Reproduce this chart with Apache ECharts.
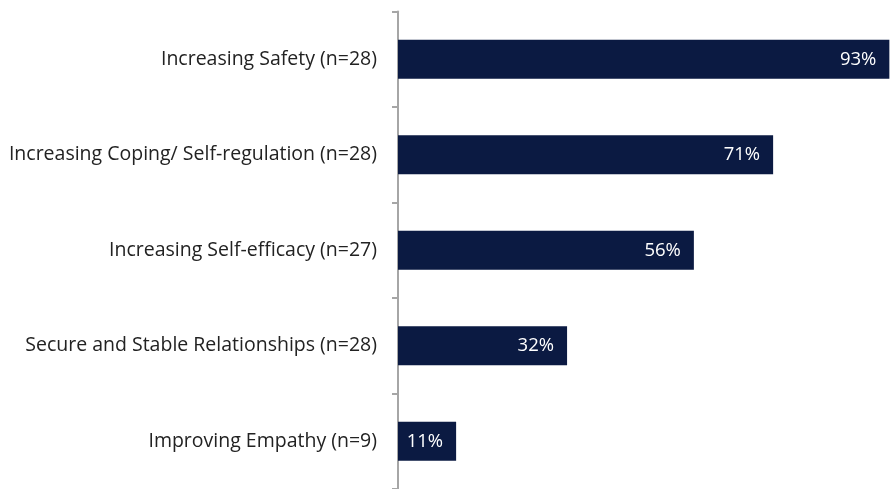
<!DOCTYPE html>
<html>
<head>
<meta charset="utf-8">
<script src="https://cdn.jsdelivr.net/npm/echarts@6/dist/echarts.min.js"></script>
<style>
  html, body { margin: 0; padding: 0; background: #fff; }
  #chart { width: 892px; height: 489px; }
</style>
</head>
<body>
<div id="chart"></div>
<script>
// Outcome areas, top to bottom
const categories = [
  'Increasing Safety (n=28)',
  'Increasing Coping/ Self-regulation (n=28)',
  'Increasing Self-efficacy (n=27)',
  'Secure and Stable Relationships (n=28)',
  'Improving Empathy (n=9)'
];
// Share of respondents (%)
const values = [93, 71, 56, 32, 11];

const chart = echarts.init(document.getElementById('chart'));
chart.setOption({
  animation: false,
  grid: { left: 398, right: 0, top: 11.5, height: 481, containLabel: false },
  xAxis: {
    type: 'value',
    min: 0,
    max: 93.5,
    show: false
  },
  yAxis: {
    type: 'category',
    data: categories,
    inverse: true,
    axisLine: { show: true, lineStyle: { color: '#a6a6a6', width: 2 } },
    axisTick: { show: true, length: 6, lineStyle: { color: '#a6a6a6', width: 2 } },
    axisLabel: {
      margin: 21,
      color: '#222222',
      fontSize: 19.5,
      fontFamily: 'Open Sans',
      padding: [3, 0, 0, 0]
    }
  },
  series: [{
    type: 'bar',
    data: values,
    barWidth: 39,
    itemStyle: { color: '#0b1a42' },
    label: {
      show: true,
      position: 'insideRight',
      distance: 13,
      color: '#ffffff',
      fontSize: 18.5,
      fontFamily: 'Open Sans',
      formatter: p => p.value + '%'
    }
  }]
});
</script>
</body>
</html>
